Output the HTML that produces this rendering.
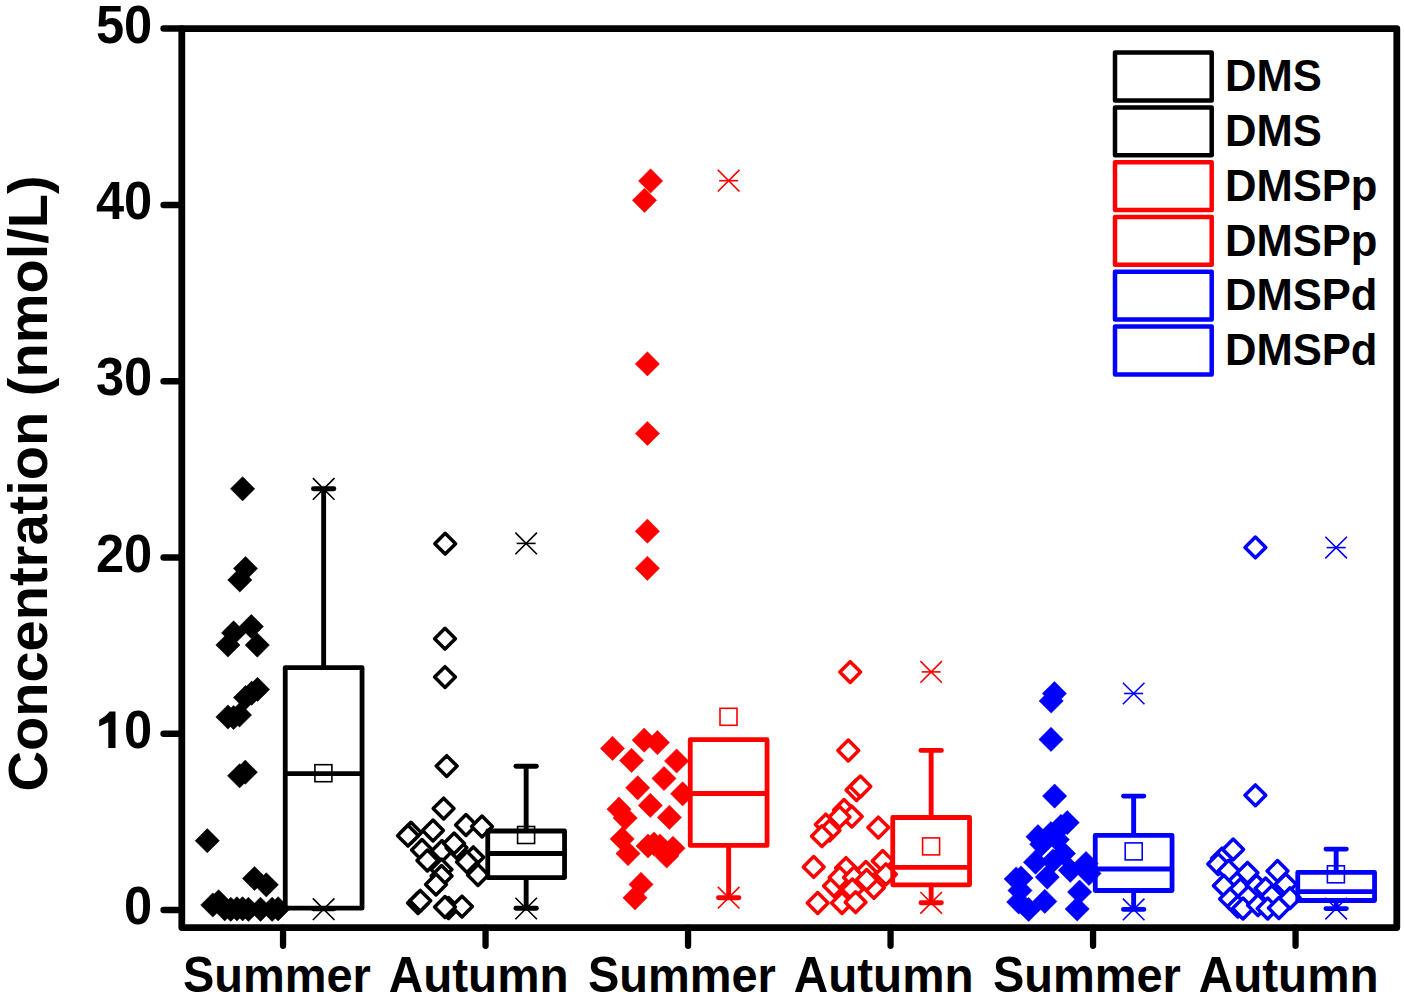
<!DOCTYPE html><html><head><meta charset="utf-8"><style>html,body{margin:0;padding:0;background:#fff;width:1404px;height:1004px;overflow:hidden}svg{display:block}text{font-family:"Liberation Sans",sans-serif;font-weight:bold}</style></head><body>
<svg width="1404" height="1004" viewBox="0 0 1404 1004">
<rect width="1404" height="1004" fill="#fff"/>
<g fill="#000" stroke="#000" stroke-width="0.6">
<path d="M242.6 476.7l12.1 12.1l-12.1 12.1l-12.1 -12.1z"/>
<path d="M245.5 556.4l12.1 12.1l-12.1 12.1l-12.1 -12.1z"/>
<path d="M239.8 567.9l12.1 12.1l-12.1 12.1l-12.1 -12.1z"/>
<path d="M251.3 614.4l12.1 12.1l-12.1 12.1l-12.1 -12.1z"/>
<path d="M233.6 620.8l12.1 12.1l-12.1 12.1l-12.1 -12.1z"/>
<path d="M227.9 632.9l12.1 12.1l-12.1 12.1l-12.1 -12.1z"/>
<path d="M257.3 633l12.1 12.1l-12.1 12.1l-12.1 -12.1z"/>
<path d="M257.5 677.3l12.1 12.1l-12.1 12.1l-12.1 -12.1z"/>
<path d="M251.7 681.1l12.1 12.1l-12.1 12.1l-12.1 -12.1z"/>
<path d="M245.5 685.5l12.1 12.1l-12.1 12.1l-12.1 -12.1z"/>
<path d="M227.9 704.9l12.1 12.1l-12.1 12.1l-12.1 -12.1z"/>
<path d="M233.6 705.4l12.1 12.1l-12.1 12.1l-12.1 -12.1z"/>
<path d="M239.5 702.9l12.1 12.1l-12.1 12.1l-12.1 -12.1z"/>
<path d="M245.3 760.1l12.1 12.1l-12.1 12.1l-12.1 -12.1z"/>
<path d="M239.6 763.7l12.1 12.1l-12.1 12.1l-12.1 -12.1z"/>
<path d="M207.3 828.6l12.1 12.1l-12.1 12.1l-12.1 -12.1z"/>
<path d="M254.5 866.4l12.1 12.1l-12.1 12.1l-12.1 -12.1z"/>
<path d="M266.3 872.7l12.1 12.1l-12.1 12.1l-12.1 -12.1z"/>
<path d="M212.8 892.9l12.1 12.1l-12.1 12.1l-12.1 -12.1z"/>
<path d="M218.6 889.7l12.1 12.1l-12.1 12.1l-12.1 -12.1z"/>
<path d="M224.7 896.7l12.1 12.1l-12.1 12.1l-12.1 -12.1z"/>
<path d="M230.8 897.2l12.1 12.1l-12.1 12.1l-12.1 -12.1z"/>
<path d="M236.9 896.7l12.1 12.1l-12.1 12.1l-12.1 -12.1z"/>
<path d="M242.6 896.7l12.1 12.1l-12.1 12.1l-12.1 -12.1z"/>
<path d="M248.4 897.2l12.1 12.1l-12.1 12.1l-12.1 -12.1z"/>
<path d="M260.5 897.2l12.1 12.1l-12.1 12.1l-12.1 -12.1z"/>
<path d="M272.1 897.2l12.1 12.1l-12.1 12.1l-12.1 -12.1z"/>
<path d="M278.1 896.7l12.1 12.1l-12.1 12.1l-12.1 -12.1z"/>
</g>
<g fill="#fff" stroke="#000" stroke-width="3.5" stroke-linejoin="round">
<path d="M445.2 533.3l10.4 10.4l-10.4 10.4l-10.4 -10.4z"/>
<path d="M445 628.3l10.4 10.4l-10.4 10.4l-10.4 -10.4z"/>
<path d="M445 666.7l10.4 10.4l-10.4 10.4l-10.4 -10.4z"/>
<path d="M446.7 755.7l10.4 10.4l-10.4 10.4l-10.4 -10.4z"/>
<path d="M443.6 798.2l10.4 10.4l-10.4 10.4l-10.4 -10.4z"/>
<path d="M410.9 822.35l10.4 10.4l-10.4 10.4l-10.4 -10.4z"/>
<path d="M408 825.3l10.4 10.4l-10.4 10.4l-10.4 -10.4z"/>
<path d="M433 820.1l10.4 10.4l-10.4 10.4l-10.4 -10.4z"/>
<path d="M466 814.6l10.4 10.4l-10.4 10.4l-10.4 -10.4z"/>
<path d="M482 816.1l10.4 10.4l-10.4 10.4l-10.4 -10.4z"/>
<path d="M422 839.6l10.4 10.4l-10.4 10.4l-10.4 -10.4z"/>
<path d="M442 840.6l10.4 10.4l-10.4 10.4l-10.4 -10.4z"/>
<path d="M456.5 837.4l10.4 10.4l-10.4 10.4l-10.4 -10.4z"/>
<path d="M454.1 833l10.4 10.4l-10.4 10.4l-10.4 -10.4z"/>
<path d="M473.3 846.9l10.4 10.4l-10.4 10.4l-10.4 -10.4z"/>
<path d="M467 851.6l10.4 10.4l-10.4 10.4l-10.4 -10.4z"/>
<path d="M427.4 850.1l10.4 10.4l-10.4 10.4l-10.4 -10.4z"/>
<path d="M441.5 859.1l10.4 10.4l-10.4 10.4l-10.4 -10.4z"/>
<path d="M478 864.6l10.4 10.4l-10.4 10.4l-10.4 -10.4z"/>
<path d="M441.6 865.6l10.4 10.4l-10.4 10.4l-10.4 -10.4z"/>
<path d="M436 874.1l10.4 10.4l-10.4 10.4l-10.4 -10.4z"/>
<path d="M418 892.6l10.4 10.4l-10.4 10.4l-10.4 -10.4z"/>
<path d="M420.3 890.4l10.4 10.4l-10.4 10.4l-10.4 -10.4z"/>
<path d="M448.5 897.6l10.4 10.4l-10.4 10.4l-10.4 -10.4z"/>
<path d="M462 896.2l10.4 10.4l-10.4 10.4l-10.4 -10.4z"/>
<path d="M445 896.6l10.4 10.4l-10.4 10.4l-10.4 -10.4z"/>
</g>
<g fill="#ff0000" stroke="#ff0000" stroke-width="0.6">
<path d="M650.6 168.8l12.1 12.1l-12.1 12.1l-12.1 -12.1z"/>
<path d="M644.5 188.2l12.1 12.1l-12.1 12.1l-12.1 -12.1z"/>
<path d="M647.4 351.8l12.1 12.1l-12.1 12.1l-12.1 -12.1z"/>
<path d="M647.4 421.4l12.1 12.1l-12.1 12.1l-12.1 -12.1z"/>
<path d="M647.4 519.1l12.1 12.1l-12.1 12.1l-12.1 -12.1z"/>
<path d="M647.4 556.2l12.1 12.1l-12.1 12.1l-12.1 -12.1z"/>
<path d="M612.5 736.3l12.1 12.1l-12.1 12.1l-12.1 -12.1z"/>
<path d="M644.2 728.1l12.1 12.1l-12.1 12.1l-12.1 -12.1z"/>
<path d="M657.4 730.5l12.1 12.1l-12.1 12.1l-12.1 -12.1z"/>
<path d="M631.6 748.3l12.1 12.1l-12.1 12.1l-12.1 -12.1z"/>
<path d="M676.6 748.9l12.1 12.1l-12.1 12.1l-12.1 -12.1z"/>
<path d="M664 766.4l12.1 12.1l-12.1 12.1l-12.1 -12.1z"/>
<path d="M637.7 775.7l12.1 12.1l-12.1 12.1l-12.1 -12.1z"/>
<path d="M682.6 781.7l12.1 12.1l-12.1 12.1l-12.1 -12.1z"/>
<path d="M650.3 793.3l12.1 12.1l-12.1 12.1l-12.1 -12.1z"/>
<path d="M619 797.1l12.1 12.1l-12.1 12.1l-12.1 -12.1z"/>
<path d="M669.4 805.3l12.1 12.1l-12.1 12.1l-12.1 -12.1z"/>
<path d="M625.2 805.9l12.1 12.1l-12.1 12.1l-12.1 -12.1z"/>
<path d="M622.2 826.9l12.1 12.1l-12.1 12.1l-12.1 -12.1z"/>
<path d="M628 841.5l12.1 12.1l-12.1 12.1l-12.1 -12.1z"/>
<path d="M648 833.9l12.1 12.1l-12.1 12.1l-12.1 -12.1z"/>
<path d="M654 831.9l12.1 12.1l-12.1 12.1l-12.1 -12.1z"/>
<path d="M660 833.9l12.1 12.1l-12.1 12.1l-12.1 -12.1z"/>
<path d="M673 836.2l12.1 12.1l-12.1 12.1l-12.1 -12.1z"/>
<path d="M666.7 843.9l12.1 12.1l-12.1 12.1l-12.1 -12.1z"/>
<path d="M641 872.3l12.1 12.1l-12.1 12.1l-12.1 -12.1z"/>
<path d="M635 885.7l12.1 12.1l-12.1 12.1l-12.1 -12.1z"/>
</g>
<g fill="#fff" stroke="#ff0000" stroke-width="3.5" stroke-linejoin="round">
<path d="M850.2 661.7l10.4 10.4l-10.4 10.4l-10.4 -10.4z"/>
<path d="M848.3 740.1l10.4 10.4l-10.4 10.4l-10.4 -10.4z"/>
<path d="M856.5 779.6l10.4 10.4l-10.4 10.4l-10.4 -10.4z"/>
<path d="M860.4 776.1l10.4 10.4l-10.4 10.4l-10.4 -10.4z"/>
<path d="M844 799.6l10.4 10.4l-10.4 10.4l-10.4 -10.4z"/>
<path d="M851.8 806.2l10.4 10.4l-10.4 10.4l-10.4 -10.4z"/>
<path d="M839.6 806.6l10.4 10.4l-10.4 10.4l-10.4 -10.4z"/>
<path d="M825.8 814.2l10.4 10.4l-10.4 10.4l-10.4 -10.4z"/>
<path d="M878.3 817.2l10.4 10.4l-10.4 10.4l-10.4 -10.4z"/>
<path d="M829.5 820.2l10.4 10.4l-10.4 10.4l-10.4 -10.4z"/>
<path d="M821.9 825.8l10.4 10.4l-10.4 10.4l-10.4 -10.4z"/>
<path d="M813.7 856.5l10.4 10.4l-10.4 10.4l-10.4 -10.4z"/>
<path d="M846 857.7l10.4 10.4l-10.4 10.4l-10.4 -10.4z"/>
<path d="M865.9 861.6l10.4 10.4l-10.4 10.4l-10.4 -10.4z"/>
<path d="M882.7 850.5l10.4 10.4l-10.4 10.4l-10.4 -10.4z"/>
<path d="M885.9 863.9l10.4 10.4l-10.4 10.4l-10.4 -10.4z"/>
<path d="M834 875.6l10.4 10.4l-10.4 10.4l-10.4 -10.4z"/>
<path d="M839.6 867.1l10.4 10.4l-10.4 10.4l-10.4 -10.4z"/>
<path d="M854 867.1l10.4 10.4l-10.4 10.4l-10.4 -10.4z"/>
<path d="M873.9 877.4l10.4 10.4l-10.4 10.4l-10.4 -10.4z"/>
<path d="M866.7 869.5l10.4 10.4l-10.4 10.4l-10.4 -10.4z"/>
<path d="M852.4 879l10.4 10.4l-10.4 10.4l-10.4 -10.4z"/>
<path d="M817.7 892.6l10.4 10.4l-10.4 10.4l-10.4 -10.4z"/>
<path d="M842 892.6l10.4 10.4l-10.4 10.4l-10.4 -10.4z"/>
<path d="M855.6 891.8l10.4 10.4l-10.4 10.4l-10.4 -10.4z"/>
</g>
<g fill="#0000ff" stroke="#0000ff" stroke-width="0.6">
<path d="M1054.4 681.5l12.1 12.1l-12.1 12.1l-12.1 -12.1z"/>
<path d="M1051.2 688.9l12.1 12.1l-12.1 12.1l-12.1 -12.1z"/>
<path d="M1051 727.3l12.1 12.1l-12.1 12.1l-12.1 -12.1z"/>
<path d="M1054.6 784l12.1 12.1l-12.1 12.1l-12.1 -12.1z"/>
<path d="M1067.2 810.5l12.1 12.1l-12.1 12.1l-12.1 -12.1z"/>
<path d="M1061 814.3l12.1 12.1l-12.1 12.1l-12.1 -12.1z"/>
<path d="M1051 821.5l12.1 12.1l-12.1 12.1l-12.1 -12.1z"/>
<path d="M1038 824.6l12.1 12.1l-12.1 12.1l-12.1 -12.1z"/>
<path d="M1041.7 832.1l12.1 12.1l-12.1 12.1l-12.1 -12.1z"/>
<path d="M1063.5 841.4l12.1 12.1l-12.1 12.1l-12.1 -12.1z"/>
<path d="M1057.3 827.5l12.1 12.1l-12.1 12.1l-12.1 -12.1z"/>
<path d="M1053 848.9l12.1 12.1l-12.1 12.1l-12.1 -12.1z"/>
<path d="M1035.5 850.1l12.1 12.1l-12.1 12.1l-12.1 -12.1z"/>
<path d="M1086 851.4l12.1 12.1l-12.1 12.1l-12.1 -12.1z"/>
<path d="M1089 861.3l12.1 12.1l-12.1 12.1l-12.1 -12.1z"/>
<path d="M1070.3 858.2l12.1 12.1l-12.1 12.1l-12.1 -12.1z"/>
<path d="M1047.3 865l12.1 12.1l-12.1 12.1l-12.1 -12.1z"/>
<path d="M1020 878.4l12.1 12.1l-12.1 12.1l-12.1 -12.1z"/>
<path d="M1016.2 866.9l12.1 12.1l-12.1 12.1l-12.1 -12.1z"/>
<path d="M1021 865.9l12.1 12.1l-12.1 12.1l-12.1 -12.1z"/>
<path d="M1079.6 879.9l12.1 12.1l-12.1 12.1l-12.1 -12.1z"/>
<path d="M1077.2 896.9l12.1 12.1l-12.1 12.1l-12.1 -12.1z"/>
<path d="M1044.8 889.3l12.1 12.1l-12.1 12.1l-12.1 -12.1z"/>
<path d="M1028.6 897.4l12.1 12.1l-12.1 12.1l-12.1 -12.1z"/>
<path d="M1018.7 889.9l12.1 12.1l-12.1 12.1l-12.1 -12.1z"/>
</g>
<g fill="#fff" stroke="#0000ff" stroke-width="3.5" stroke-linejoin="round">
<path d="M1255.4 537l10.4 10.4l-10.4 10.4l-10.4 -10.4z"/>
<path d="M1255.4 784.9l10.4 10.4l-10.4 10.4l-10.4 -10.4z"/>
<path d="M1221.9 848.2l10.4 10.4l-10.4 10.4l-10.4 -10.4z"/>
<path d="M1233.2 839l10.4 10.4l-10.4 10.4l-10.4 -10.4z"/>
<path d="M1218.2 853.7l10.4 10.4l-10.4 10.4l-10.4 -10.4z"/>
<path d="M1228.7 860.3l10.4 10.4l-10.4 10.4l-10.4 -10.4z"/>
<path d="M1247.5 862.4l10.4 10.4l-10.4 10.4l-10.4 -10.4z"/>
<path d="M1277.5 860.6l10.4 10.4l-10.4 10.4l-10.4 -10.4z"/>
<path d="M1223.8 875.3l10.4 10.4l-10.4 10.4l-10.4 -10.4z"/>
<path d="M1240.5 878.7l10.4 10.4l-10.4 10.4l-10.4 -10.4z"/>
<path d="M1256.6 875.3l10.4 10.4l-10.4 10.4l-10.4 -10.4z"/>
<path d="M1265.6 878l10.4 10.4l-10.4 10.4l-10.4 -10.4z"/>
<path d="M1285.8 873.9l10.4 10.4l-10.4 10.4l-10.4 -10.4z"/>
<path d="M1230.1 888.5l10.4 10.4l-10.4 10.4l-10.4 -10.4z"/>
<path d="M1248.2 886.4l10.4 10.4l-10.4 10.4l-10.4 -10.4z"/>
<path d="M1271.9 885.7l10.4 10.4l-10.4 10.4l-10.4 -10.4z"/>
<path d="M1290 887.8l10.4 10.4l-10.4 10.4l-10.4 -10.4z"/>
<path d="M1237.8 896.2l10.4 10.4l-10.4 10.4l-10.4 -10.4z"/>
<path d="M1243 898.1l10.4 10.4l-10.4 10.4l-10.4 -10.4z"/>
<path d="M1258 894.8l10.4 10.4l-10.4 10.4l-10.4 -10.4z"/>
<path d="M1267.7 898.1l10.4 10.4l-10.4 10.4l-10.4 -10.4z"/>
<path d="M1278.9 897.6l10.4 10.4l-10.4 10.4l-10.4 -10.4z"/>
</g>
<g stroke="#000" fill="none">
<path d="M323.65 667.6V488.8" stroke-width="4.9"/>
<path d="M313.45 488.8H333.85" stroke-width="4.9" stroke-linecap="round"/>
<path d="M323.65 908.2V908.8" stroke-width="4.9"/>
<path d="M313.45 908.8H333.85" stroke-width="4.9" stroke-linecap="round"/>
<rect x="285.25" y="667.6" width="76.8" height="240.6" stroke-width="4.8" stroke-linejoin="round"/>
<path d="M285.25 773.7H362.05" stroke-width="4.8"/>
<rect x="314.9" y="764.7" width="17" height="17" stroke-width="1.6"/>
<path d="M312.85 478.1L334.45 499.7M312.85 499.7L334.45 478.1" stroke-width="1.6"/>
<path d="M312.85 898.4L334.45 920M312.85 920L334.45 898.4" stroke-width="1.6"/>
</g>
<g stroke="#000" fill="none">
<path d="M526.15 831V766.2" stroke-width="4.9"/>
<path d="M515.95 766.2H536.35" stroke-width="4.9" stroke-linecap="round"/>
<path d="M526.15 877.6V908.2" stroke-width="4.9"/>
<path d="M515.95 908.2H536.35" stroke-width="4.9" stroke-linecap="round"/>
<rect x="487.75" y="831" width="76.8" height="46.6" stroke-width="4.8" stroke-linejoin="round"/>
<path d="M487.75 853.5H564.55" stroke-width="4.8"/>
<rect x="517.6" y="826.5" width="17" height="17" stroke-width="1.6"/>
<path d="M515.35 532.6L536.95 554.2M515.35 554.2L536.95 532.6" stroke-width="1.6"/>
<path d="M516.65 543.4H535.65" stroke-width="1.6"/>
<path d="M515.35 897.7L536.95 919.3M515.35 919.3L536.95 897.7" stroke-width="1.6"/>
</g>
<g stroke="#ff0000" fill="none">
<path d="M728.65 845.4V897.7" stroke-width="4.9"/>
<path d="M718.45 897.7H738.85" stroke-width="4.9" stroke-linecap="round"/>
<rect x="690.25" y="739.7" width="76.8" height="105.7" stroke-width="4.8" stroke-linejoin="round"/>
<path d="M690.25 793.5H767.05" stroke-width="4.8"/>
<rect x="720" y="708.3" width="17" height="17" stroke-width="1.6"/>
<path d="M717.85 169.9L739.45 191.5M717.85 191.5L739.45 169.9" stroke-width="1.6"/>
<path d="M719.15 180.7H738.15" stroke-width="1.6"/>
<path d="M717.85 886.9L739.45 908.5M717.85 908.5L739.45 886.9" stroke-width="1.6"/>
</g>
<g stroke="#ff0000" fill="none">
<path d="M931.15 817.5V750.4" stroke-width="4.9"/>
<path d="M920.95 750.4H941.35" stroke-width="4.9" stroke-linecap="round"/>
<path d="M931.15 884.8V902.8" stroke-width="4.9"/>
<path d="M920.95 902.8H941.35" stroke-width="4.9" stroke-linecap="round"/>
<rect x="892.75" y="817.5" width="76.8" height="67.3" stroke-width="4.8" stroke-linejoin="round"/>
<path d="M892.75 867.3H969.55" stroke-width="4.8"/>
<rect x="922.6" y="837.9" width="17" height="17" stroke-width="1.6"/>
<path d="M920.35 661.1L941.95 682.7M920.35 682.7L941.95 661.1" stroke-width="1.6"/>
<path d="M921.65 671.9H940.65" stroke-width="1.6"/>
<path d="M920.35 892L941.95 913.6M920.35 913.6L941.95 892" stroke-width="1.6"/>
</g>
<g stroke="#0000ff" fill="none">
<path d="M1133.65 835.4V796.1" stroke-width="4.9"/>
<path d="M1123.45 796.1H1143.85" stroke-width="4.9" stroke-linecap="round"/>
<path d="M1133.65 890.5V909.4" stroke-width="4.9"/>
<path d="M1123.45 909.4H1143.85" stroke-width="4.9" stroke-linecap="round"/>
<rect x="1095.25" y="835.4" width="76.8" height="55.1" stroke-width="4.8" stroke-linejoin="round"/>
<path d="M1095.25 869H1172.05" stroke-width="4.8"/>
<rect x="1125.2" y="842.9" width="17" height="17" stroke-width="1.6"/>
<path d="M1122.85 682.7L1144.45 704.3M1122.85 704.3L1144.45 682.7" stroke-width="1.6"/>
<path d="M1124.15 693.5H1143.15" stroke-width="1.6"/>
<path d="M1122.85 898.6L1144.45 920.2M1122.85 920.2L1144.45 898.6" stroke-width="1.6"/>
</g>
<g stroke="#0000ff" fill="none">
<path d="M1336.15 872.4V849.1" stroke-width="4.9"/>
<path d="M1325.95 849.1H1346.35" stroke-width="4.9" stroke-linecap="round"/>
<path d="M1336.15 900.5V908.6" stroke-width="4.9"/>
<path d="M1325.95 908.6H1346.35" stroke-width="4.9" stroke-linecap="round"/>
<rect x="1297.75" y="872.4" width="76.8" height="28.1" stroke-width="4.8" stroke-linejoin="round"/>
<path d="M1297.75 891.7H1374.55" stroke-width="4.8"/>
<rect x="1327.4" y="865.8" width="17" height="17" stroke-width="1.6"/>
<path d="M1325.35 536.8L1346.95 558.4M1325.35 558.4L1346.95 536.8" stroke-width="1.6"/>
<path d="M1326.65 547.6H1345.65" stroke-width="1.6"/>
<path d="M1325.35 897.8L1346.95 919.4M1325.35 919.4L1346.95 897.8" stroke-width="1.6"/>
</g>
<g stroke="#000" fill="none" stroke-width="6.8" stroke-linecap="round">
<rect x="181.8" y="28.6" width="1215" height="899" stroke-linejoin="round"/>
<path d="M181.8 910.1H163.6" stroke-width="6.5"/>
<path d="M181.8 733.8H163.6" stroke-width="6.5"/>
<path d="M181.8 557.5H163.6" stroke-width="6.5"/>
<path d="M181.8 381.2H163.6" stroke-width="6.5"/>
<path d="M181.8 204.9H163.6" stroke-width="6.5"/>
<path d="M181.8 28.6H163.6" stroke-width="6.5"/>
<path d="M283.05 927.6V945.8" stroke-width="6.3"/>
<path d="M485.55 927.6V945.8" stroke-width="6.3"/>
<path d="M688.05 927.6V945.8" stroke-width="6.3"/>
<path d="M890.55 927.6V945.8" stroke-width="6.3"/>
<path d="M1093.05 927.6V945.8" stroke-width="6.3"/>
<path d="M1295.55 927.6V945.8" stroke-width="6.3"/>
</g>
<text transform="translate(152.2 924.3) scale(0.943 1)" text-anchor="end" font-size="53.66">0</text>
<text transform="translate(152.2 748) scale(0.943 1)" text-anchor="end" font-size="53.66">0</text>
<path d="M108.3 748 V722.2 L99.2 726.6 V720 Q105.3 717 109.6 711.4 H115.5 V748 Z"/>
<text transform="translate(152.2 571.7) scale(0.943 1)" text-anchor="end" font-size="53.66">20</text>
<text transform="translate(152.2 395.4) scale(0.943 1)" text-anchor="end" font-size="53.66">30</text>
<text transform="translate(152.2 219.1) scale(0.943 1)" text-anchor="end" font-size="53.66">40</text>
<text transform="translate(152.2 42.8) scale(0.943 1)" text-anchor="end" font-size="53.66">50</text>
<text transform="translate(182.89 991.7) scale(0.932 1)" font-size="50.4">S</text>
<text transform="translate(214.22 991.7) scale(0.932 0.95)" font-size="50.4">ummer</text>
<text transform="translate(388.77 991.7) scale(0.945 1)" font-size="50.4">A</text>
<text transform="translate(423.16 991.7) scale(0.945 0.95)" font-size="50.4">utumn</text>
<text transform="translate(587.89 991.7) scale(0.932 1)" font-size="50.4">S</text>
<text transform="translate(619.22 991.7) scale(0.932 0.95)" font-size="50.4">ummer</text>
<text transform="translate(793.77 991.7) scale(0.945 1)" font-size="50.4">A</text>
<text transform="translate(828.16 991.7) scale(0.945 0.95)" font-size="50.4">utumn</text>
<text transform="translate(992.89 991.7) scale(0.932 1)" font-size="50.4">S</text>
<text transform="translate(1024.22 991.7) scale(0.932 0.95)" font-size="50.4">ummer</text>
<text transform="translate(1198.77 991.7) scale(0.945 1)" font-size="50.4">A</text>
<text transform="translate(1233.16 991.7) scale(0.945 0.95)" font-size="50.4">utumn</text>
<text transform="translate(46.8 791.5) rotate(-90) scale(0.983 0.97)" font-size="57">Concentration (nmol/L)</text>
<rect x="1115" y="52.6" width="96.7" height="47.8" fill="none" stroke="#000" stroke-width="4.5" stroke-linejoin="round"/>
<text transform="translate(1224.95 91.2) scale(0.967 1)" font-size="45.07">DMS</text>
<rect x="1115" y="107.4" width="96.7" height="47.8" fill="none" stroke="#000" stroke-width="4.5" stroke-linejoin="round"/>
<text transform="translate(1224.95 146) scale(0.967 1)" font-size="45.07">DMS</text>
<rect x="1115" y="162.2" width="96.7" height="47.8" fill="none" stroke="#ff0000" stroke-width="4.5" stroke-linejoin="round"/>
<text transform="translate(1224.95 200.8) scale(0.967 1)" font-size="45.07">DMSPp</text>
<rect x="1115" y="217" width="96.7" height="47.8" fill="none" stroke="#ff0000" stroke-width="4.5" stroke-linejoin="round"/>
<text transform="translate(1224.95 255.6) scale(0.967 1)" font-size="45.07">DMSPp</text>
<rect x="1115" y="271.8" width="96.7" height="47.8" fill="none" stroke="#0000ff" stroke-width="4.5" stroke-linejoin="round"/>
<text transform="translate(1224.95 310.4) scale(0.967 1)" font-size="45.07">DMSPd</text>
<rect x="1115" y="326.6" width="96.7" height="47.8" fill="none" stroke="#0000ff" stroke-width="4.5" stroke-linejoin="round"/>
<text transform="translate(1224.95 365.2) scale(0.967 1)" font-size="45.07">DMSPd</text>
</svg></body></html>
